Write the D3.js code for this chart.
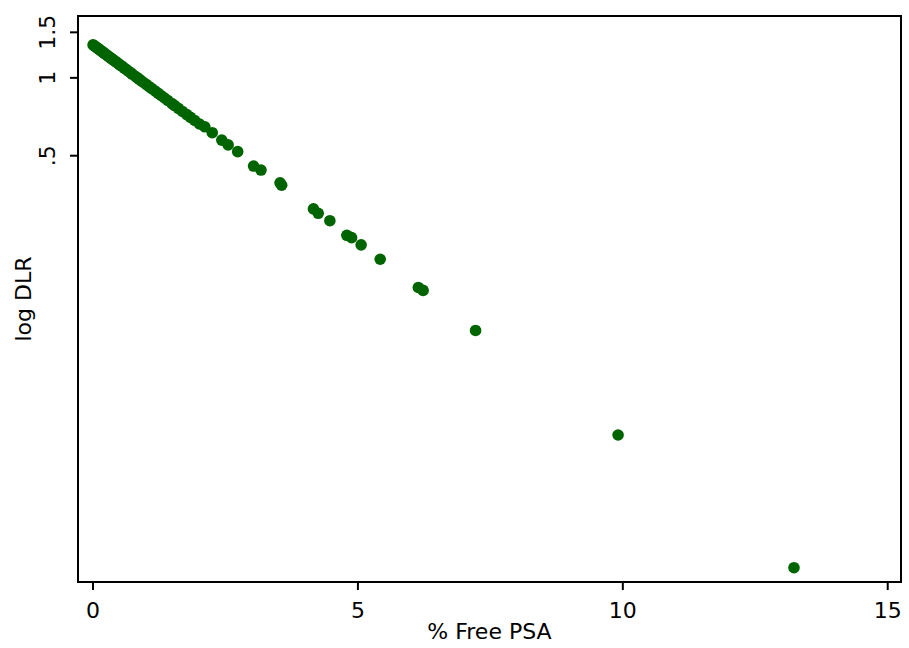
<!DOCTYPE html>
<html>
<head>
<meta charset="utf-8">
<script src="https://cdn.jsdelivr.net/npm/d3@7"></script>
<style>
  body { margin: 0; background: #fff; }
  svg text { font-family: "DejaVu Sans", Verdana, sans-serif; fill: #000; }
</style>
</head>
<body>
<svg id="chart"></svg>
<script>
// % free PSA (x) for each point
const freePSA = [
  0.01, 0.03, 0.05, 0.08, 0.10, 0.12, 0.15, 0.18, 0.20, 0.22,
  0.25, 0.28, 0.30, 0.33, 0.35, 0.38, 0.40, 0.43, 0.46, 0.50,
  0.53, 0.56, 0.60, 0.64, 0.68, 0.72, 0.75, 0.80, 0.84, 0.88,
  0.92, 0.97, 1.02, 1.07, 1.12, 1.18, 1.24, 1.30, 1.36, 1.42,
  1.50, 1.55, 1.62, 1.70, 1.78, 1.85, 1.93, 2.02,
  2.12, 2.26, 2.44, 2.56, 2.74, 3.04, 3.18, 3.54, 3.57,
  4.17, 4.26, 4.48, 4.80, 4.89, 5.07, 5.43, 6.15, 6.24,
  7.23, 9.92, 13.24
];
// log DLR (y) for each point
const logDLR = [
  1.335, 1.326, 1.317, 1.303, 1.294, 1.285, 1.272, 1.258, 1.249, 1.241,
  1.228, 1.215, 1.206, 1.194, 1.185, 1.173, 1.165, 1.153, 1.141, 1.125,
  1.113, 1.102, 1.086, 1.071, 1.056, 1.041, 1.030, 1.012, 0.998, 0.984,
  0.970, 0.953, 0.937, 0.920, 0.905, 0.886, 0.867, 0.849, 0.832, 0.814,
  0.792, 0.778, 0.759, 0.738, 0.718, 0.700, 0.681, 0.660,
  0.644, 0.611, 0.572, 0.548, 0.516, 0.454, 0.438, 0.391, 0.383,
  0.310, 0.298, 0.279, 0.245, 0.240, 0.225, 0.198, 0.154, 0.150,
  0.105, 0.0414, 0.0127
];

const xTicks = [0, 5, 10, 15];
const yTicks = [0.5, 1, 1.5];
const yTickLabels = ['.5', '1', '1.5'];

const width = 909;
const height = 648;
const plot = { left: 78, right: 901, top: 16, bottom: 582 };

const svg = d3.select('#chart')
  .attr('width', width)
  .attr('height', height);

// scales
const xScale = d3.scaleLinear()
  .domain([-0.274, 15.26])
  .range([plot.left, plot.right]);

const yScale = d3.scaleLog()
  .domain([0.01118, 1.727])
  .range([plot.bottom, plot.top]);

// x axis
const xAxis = d3.axisBottom(xScale)
  .tickValues(xTicks)
  .tickFormat(d3.format('d'))
  .tickSize(8)
  .tickSizeOuter(0);

svg.append('g')
  .attr('transform', `translate(0,${plot.bottom})`)
  .call(xAxis)
  .call(g => g.select('.domain').remove())
  .call(g => g.selectAll('.tick line').attr('stroke', '#000').attr('stroke-width', 2))
  .call(g => g.selectAll('.tick text')
    .attr('y', 36).attr('dy', 0)
    .style('font-size', '22px'));

// y axis, labels rotated
const yAxis = d3.axisLeft(yScale)
  .tickValues(yTicks)
  .tickFormat((d, i) => yTickLabels[i])
  .tickSize(8)
  .tickSizeOuter(0);

svg.append('g')
  .attr('transform', `translate(${plot.left},0)`)
  .call(yAxis)
  .call(g => g.select('.domain').remove())
  .call(g => g.selectAll('.tick line').attr('stroke', '#000').attr('stroke-width', 2))
  .call(g => g.selectAll('.tick text')
    .attr('transform', 'rotate(-90)')
    .attr('x', 0).attr('y', -23).attr('dy', 0)
    .attr('text-anchor', 'middle')
    .style('font-size', '22px'));

// points
const points = freePSA.map((x, i) => ({ x: x, y: logDLR[i] }));

svg.append('g')
  .selectAll('circle')
  .data(points)
  .enter()
  .append('circle')
  .attr('cx', d => xScale(d.x))
  .attr('cy', d => yScale(d.y))
  .attr('r', 5.8)
  .attr('fill', '#006400');

// plot frame
svg.append('rect')
  .attr('x', plot.left)
  .attr('y', plot.top)
  .attr('width', plot.right - plot.left)
  .attr('height', plot.bottom - plot.top)
  .attr('fill', 'none')
  .attr('stroke', '#000')
  .attr('stroke-width', 2);

// axis titles
svg.append('text')
  .attr('x', (plot.left + plot.right) / 2)
  .attr('y', 639)
  .attr('text-anchor', 'middle')
  .style('font-size', '22px')
  .text('% Free PSA');

svg.append('text')
  .attr('transform', `translate(31,${(plot.top + plot.bottom) / 2}) rotate(-90)`)
  .attr('text-anchor', 'middle')
  .style('font-size', '22px')
  .text('log DLR');
</script>
</body>
</html>
